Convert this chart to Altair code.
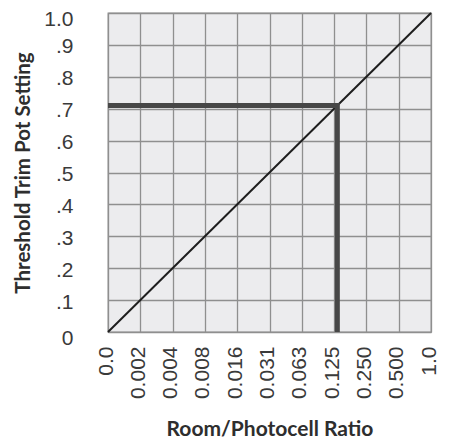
import altair as alt
import pandas as pd

# Tick positions and labels
x_ticks = [0.0, 0.1, 0.2, 0.3, 0.4, 0.5, 0.6, 0.7, 0.8, 0.9, 1.0]
x_labels = ["0.0", "0.002", "0.004", "0.008", "0.016", "0.031", "0.063", "0.125", "0.250", "0.500", "1.0"]
y_ticks = [0.0, 0.1, 0.2, 0.3, 0.4, 0.5, 0.6, 0.7, 0.8, 0.9, 1.0]
y_labels = ["0", ".1", ".2", ".3", ".4", ".5", ".6", ".7", ".8", ".9", "1.0"]

# Diagonal reference line
diag_x = [0.0, 1.0]
diag_y = [0.0, 1.0]

# Example setting path (horizontal then vertical)
set_x = [0.0, 0.71, 0.71]
set_y = [0.71, 0.71, 0.0]
set_order = [0, 1, 2]

diag_df = pd.DataFrame({"x": diag_x, "y": diag_y, "o": [0, 1]})
set_df = pd.DataFrame({"x": set_x, "y": set_y, "o": set_order})

def lookup_expr(ticks, labels):
    parts = []
    for t, l in zip(ticks, labels):
        parts.append(f"abs(datum.value - {t}) < 0.001 ? '{l}'")
    return " : ".join(parts) + " : ''"

x_enc = alt.X(
    "x:Q",
    scale=alt.Scale(domain=[0, 1], nice=False, zero=False),
    axis=alt.Axis(
        values=x_ticks,
        labelExpr=lookup_expr(x_ticks, x_labels),
        labelAngle=270,
        labelFont="Liberation Sans",
        labelFontSize=21,
        labelColor="#3a3a3a",
        labelPadding=14,
        labelOffset=-2,
        labelOverlap=False,
        labelFlush=False,
        tickSize=0,
        ticks=False,
        domain=False,
        gridColor="#8f8f8f",
        gridWidth=1.3,
        title="Room/Photocell Ratio",
        titleFont="Lato",
        titleFontWeight="bold",
        titleFontSize=21,
        titleColor="#2e2e2e",
        titlePadding=20,
    ),
)
y_enc = alt.Y(
    "y:Q",
    scale=alt.Scale(domain=[0, 1], nice=False, zero=False),
    axis=alt.Axis(
        values=y_ticks,
        labelExpr=lookup_expr(y_ticks, y_labels),
        labelFont="Liberation Sans",
        labelFontSize=21,
        labelColor="#3a3a3a",
        labelPadding=35,
        labelOffset={"condition": {"test": "datum.value < 0.05 || datum.value > 0.95", "value": 6}, "value": 2},
        labelOverlap=False,
        labelFlush=False,
        ticks=False,
        tickSize=0,
        domain=False,
        gridColor="#8f8f8f",
        gridWidth=1.3,
        title="Threshold Trim Pot Setting",
        titleFont="Lato",
        titleFontWeight="bold",
        titleFontSize=20.5,
        titleColor="#2e2e2e",
        titlePadding=10,
    ),
)

diag = alt.Chart(diag_df).mark_line(color="#1e1e1e", strokeWidth=2).encode(
    x=x_enc, y=y_enc, order="o:Q"
)

setting = alt.Chart(set_df).mark_line(
    color="#474747", strokeWidth=5, strokeJoin="miter", strokeCap="butt"
).encode(x=x_enc, y=y_enc, order="o:Q")

chart = (
    alt.layer(diag, setting)
    .properties(
        width=434,
        height=432,
        autosize=alt.AutoSizeParams(type="fit", contains="padding"),
        padding={"left": 5, "top": 0, "right": 3, "bottom": 0},
    )
    .configure_view(fill="#ececee", stroke="#8f8f8f", strokeWidth=1.3)
)

chart.save("out.html", embed_options={"renderer": "svg", "actions": False})
